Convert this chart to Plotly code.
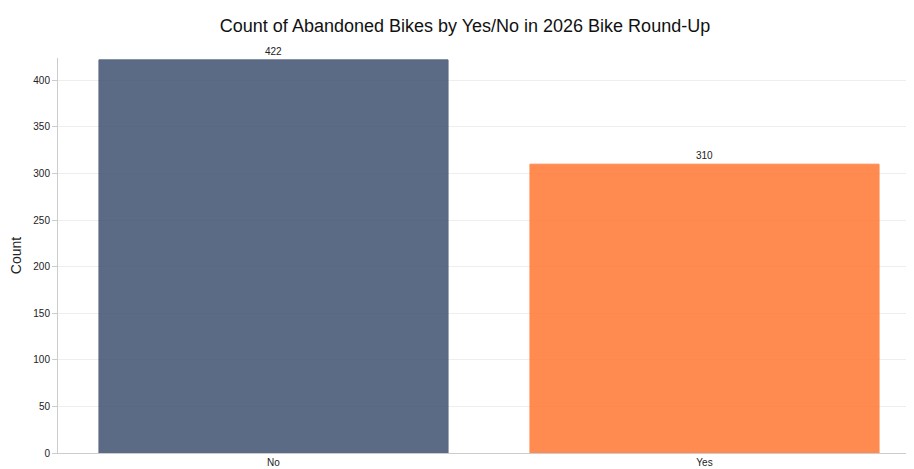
import plotly.graph_objects as go

categories = ["No", "Yes"]
counts = [422, 310]
colors = ["#4a5a78", "#ff7f3f"]

fig = go.Figure(go.Bar(
    x=categories, y=counts,
    marker=dict(color=colors, opacity=0.9, line=dict(color=colors, width=1)),
    text=counts, textposition="outside", cliponaxis=False,
    textfont=dict(size=10, color="#222"),
))

fig.update_layout(
    title=dict(text="Count of Abandoned Bikes by Yes/No in 2026 Bike Round-Up",
               x=0.5, xanchor="center", y=0.975, font=dict(size=18, color="#111")),
    font=dict(family="Liberation Sans, Arial, sans-serif", size=10, color="#222"),
    plot_bgcolor="white", paper_bgcolor="white",
    width=914, height=469,
    margin=dict(l=50, r=2, t=50, b=24),
    bargap=0.19, showlegend=False,
)
fig.update_xaxes(showline=True, linecolor="#ccc", ticks="", showgrid=False)
fig.update_yaxes(range=[0, 424], dtick=50, showline=True, linecolor="#ccc",
                 ticks="outside", ticklen=5, tickcolor="#ccc",
                 gridcolor="#eee", zeroline=False,
                 title=dict(text="Count", font=dict(size=14), standoff=8))

fig.write_html("out.html")
